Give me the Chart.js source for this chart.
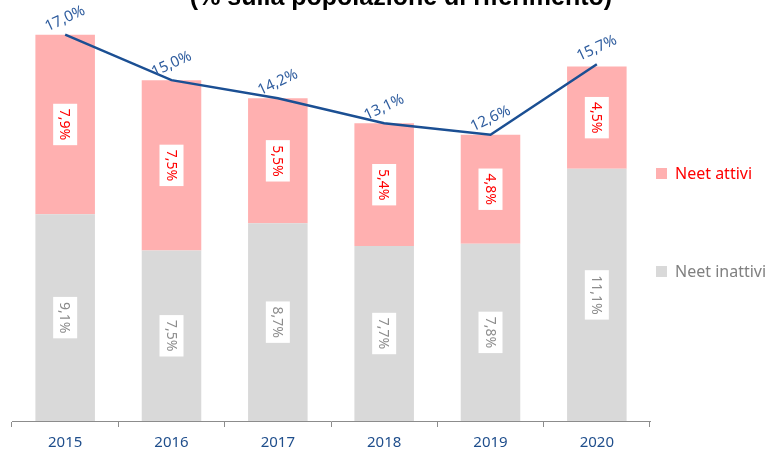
<!DOCTYPE html>
<html>
<head>
<meta charset="utf-8">
<script src="https://cdn.jsdelivr.net/npm/chart.js@4/dist/chart.umd.min.js"></script>
<style>
  html, body { margin: 0; padding: 0; background: #fff; }
  #wrap { position: relative; width: 782px; height: 450px; overflow: hidden; }
  #box { position: absolute; left: 0; top: 0; width: 782px; height: 459px; }
  .leg { position: absolute; left: 656px; font: 16px "Noto Sans", sans-serif; white-space: nowrap; }
  .leg i { display: inline-block; width: 11px; height: 11px; margin-right: 8px; vertical-align: 0px; }
</style>
</head>
<body>
<div id="wrap">
  <div id="box"><canvas id="chart"></canvas></div>
  <div class="leg" style="top:162px;color:#ff0000"><i style="background:#ffb0b0"></i>Neet attivi</div>
  <div class="leg" style="top:260px;color:#808080"><i style="background:#d9d9d9"></i>Neet inattivi</div>
</div>
<script>
const years = ['2015', '2016', '2017', '2018', '2019', '2020'];
const neetInattivi = [9.1, 7.5, 8.7, 7.7, 7.8, 11.1];
const neetAttivi = [7.9, 7.5, 5.5, 5.4, 4.8, 4.5];
const neetTotale = [17.0, 15.0, 14.2, 13.1, 12.6, 15.7];
const titleText = '(% sulla popolazione di riferimento)';

const pct = (v) => v.toFixed(1).replace('.', ',') + '%';

// labels inside the bars, rotated, on white boxes; labels above the line
const labelPlugin = {
  id: 'labels',
  afterDatasetsDraw(chart) {
    const ctx = chart.ctx;
    ctx.save();
    ctx.font = '14px "Noto Sans", sans-serif';
    [[0, '#8c8c8c'], [1, '#ff0000']].forEach(([di, color]) => {
      const meta = chart.getDatasetMeta(di);
      const data = chart.data.datasets[di].data;
      meta.data.forEach((el, i) => {
        const cy = (el.y + el.base) / 2;
        const txt = pct(data[i]);
        const w = ctx.measureText(txt).width;
        ctx.save();
        ctx.translate(el.x, cy);
        ctx.rotate(Math.PI / 2);
        ctx.fillStyle = '#fff';
        ctx.fillRect(-w / 2 - 5, -12, w + 10, 24);
        ctx.fillStyle = color;
        ctx.textAlign = 'center';
        ctx.textBaseline = 'middle';
        ctx.fillText(txt, 0, 1);
        ctx.restore();
      });
    });
    const lm = chart.getDatasetMeta(2);
    ctx.font = '15px "Noto Sans", sans-serif';
    ctx.fillStyle = '#2e5c9e';
    lm.data.forEach((pt, i) => {
      ctx.save();
      ctx.translate(pt.x, pt.y - 16);
      ctx.rotate(-25 * Math.PI / 180);
      ctx.textAlign = 'center';
      ctx.textBaseline = 'middle';
      ctx.fillText(pct(neetTotale[i]), 0, 0);
      ctx.restore();
    });
    ctx.font = 'bold 25px "Liberation Sans", sans-serif';
    ctx.fillStyle = '#000';
    ctx.textAlign = 'center';
    ctx.textBaseline = 'middle';
    ctx.fillText(titleText, 401, -2);
    ctx.restore();
  }
};

new Chart(document.getElementById('chart'), {
  data: {
    labels: years,
    datasets: [
      { type: 'bar', label: 'Neet inattivi', data: neetInattivi, backgroundColor: '#d9d9d9', stack: 'neet', order: 1, barPercentage: 0.56, categoryPercentage: 1 },
      { type: 'bar', label: 'Neet attivi', data: neetAttivi, backgroundColor: '#ffb0b0', stack: 'neet', order: 1, barPercentage: 0.56, categoryPercentage: 1 },
      { type: 'line', label: 'Totale', data: neetTotale, borderColor: '#1b4f93', borderWidth: 2.5, pointRadius: 0, tension: 0, stack: 'tot', order: 0 }
    ]
  },
  options: {
    responsive: true,
    maintainAspectRatio: false,
    animation: false,
    layout: { padding: { left: 12, right: 132, top: 12, bottom: 0 } },
    plugins: { legend: { display: false }, tooltip: { enabled: false } },
    scales: {
      x: {
        stacked: true,
        offset: true,
        border: { color: '#8c8c8c', width: 1 },
        grid: { drawOnChartArea: false, drawTicks: true, tickLength: 6, color: '#8c8c8c', offset: true },
        ticks: { color: '#1f4e8c', font: { family: 'Noto Sans', size: 15 }, padding: 7 }
      },
      y: { stacked: true, display: false, min: 0, max: 18 }
    }
  },
  plugins: [labelPlugin]
});
</script>
</body>
</html>
